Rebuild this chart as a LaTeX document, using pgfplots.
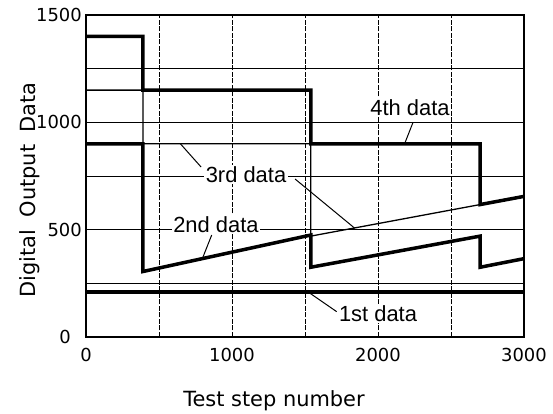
\documentclass[border=0pt]{standalone}
\usepackage{pgfplots}
\pgfplotsset{compat=1.18}
\usepackage{fontspec}
\setmainfont{DejaVu Sans}
\newfontfamily\lab{Liberation Sans}
\begin{document}
\begin{tikzpicture}
\useasboundingbox (-86bp,-77bp) rectangle (467bp,337bp);
\begin{axis}[
  at={(0,0)}, anchor=south west,
  scale only axis, width=438bp, height=322bp,
  xmin=0, xmax=3000, ymin=0, ymax=1500,
  axis line style={line width=1.4bp},
  xtick={0,500,...,3000}, xticklabels={0,,1000,,2000,,3000},
  ytick={0,250,...,1500}, yticklabels={0\hspace*{11bp},,500,,1000,,1500},
  major tick length=0pt,
  xmajorgrids, ymajorgrids,
  x grid style={line width=0.7bp, black, dash pattern=on 5bp off 1.5bp},
  y grid style={line width=0.7bp, black},
  ticklabel style={font=\fontsize{18}{18}\selectfont, inner sep=0pt},
  xticklabel style={anchor=north, yshift=-11bp},
  yticklabel style={anchor=east, xshift=-4bp},
  clip=false,
]
% 1st data
\addplot[black, line width=3.2bp] coordinates {(0,210) (3000,210)};
% 3rd data (thin)
\addplot[black, line width=1.3bp, line join=miter] coordinates {
  (0,1150) (390,1150) (390,900) (1540,900) (1540,470) (3000,655)};
% 2nd data
\addplot[black, line width=3.5bp, line join=miter] coordinates {
  (0,900) (390,900) (390,305) (1540,475) (1540,325) (2700,470) (2700,325) (3000,365)};
% 4th data
\addplot[black, line width=3.5bp, line join=miter] coordinates {
  (0,1400) (390,1400) (390,1150) (1540,1150) (1540,900) (2700,900) (2700,617) (3000,655)};
% labels
\node[fill=white, inner sep=1.5bp, font=\lab\fontsize{22}{24}\selectfont] at (axis cs:2219,1067) {4th data};
\node[fill=white, inner sep=1.5bp, font=\lab\fontsize{22}{24}\selectfont] at (axis cs:1096,755) {3rd data};
\node[fill=white, inner sep=1.5bp, font=\lab\fontsize{22}{24}\selectfont] at (axis cs:890,522) {2nd data};
\node[fill=white, inner sep=1.5bp, font=\lab\fontsize{22}{24}\selectfont] at (axis cs:2000,109) {1st data};
% leaders
\draw[line width=1bp] (axis cs:2185,905) -- (axis cs:2240,1000);
\draw[line width=1bp] (axis cs:644,902) -- (axis cs:788,792);
\draw[line width=1bp] (axis cs:1432,736) -- (axis cs:1842,506);
\draw[line width=1bp] (axis cs:861,475) -- (axis cs:801,372);
\draw[line width=1bp] (axis cs:1717,118) -- (axis cs:1521,210);
\end{axis}
\node[rotate=90, font=\fontsize{21}{24}\selectfont] at (-56bp,147bp) {Digital\hspace{0.6em}Output\hspace{0.6em}Data};
\node[anchor=base, font=\fontsize{21}{24}\selectfont] at (188bp,-69bp) {Test step number};
\end{tikzpicture}
\end{document}
